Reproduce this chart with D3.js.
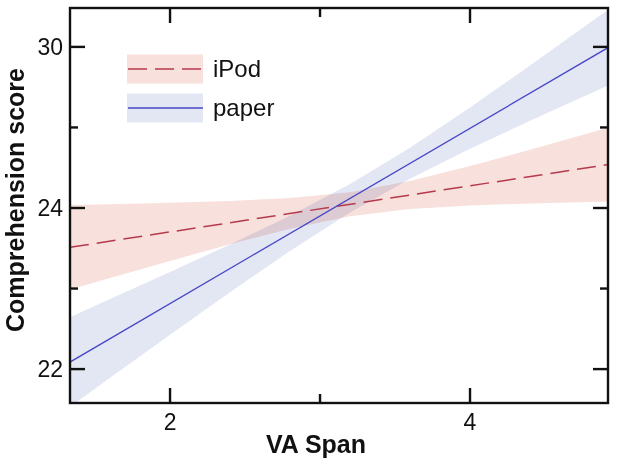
<!DOCTYPE html>
<html><head><meta charset="utf-8">
<script src="https://cdn.jsdelivr.net/npm/d3@7/dist/d3.min.js"></script>
<style>
html,body{margin:0;padding:0;background:#fff;}
svg{display:block;font-family:"Liberation Sans",Arial,sans-serif;}
</style></head>
<body>
<svg id="chart" width="617" height="460"></svg>
<script>
// ---- data ----
const seriesNames = ["iPod", "paper"];
const bandX = [1.333, 1.6, 2.0, 2.4, 2.8, 3.2, 3.6, 4.0, 4.4, 4.92];
const iPodLower = [22.987, 23.131, 23.343, 23.549, 23.742, 23.897, 23.988, 24.032, 24.057, 24.081];
const iPodUpper = [24.037, 24.047, 24.065, 24.087, 24.124, 24.197, 24.334, 24.520, 24.723, 24.997];
const paperLower = [21.530, 21.892, 22.426, 22.954, 23.467, 23.945, 24.364, 24.735, 25.082, 25.520];
const paperUpper = [22.644, 22.870, 23.206, 23.548, 23.905, 24.297, 24.748, 25.247, 25.770, 26.462];
const lineX = [1.333, 4.92];
const iPodFit = [23.512, 24.539];
const paperFit = [22.087, 25.991];
const xTickValues = [2, 3, 4];
const xTickLabels = ["2", "", "4"];
const yTickValues = [22, 23, 24, 25, 26];
const yTickLabels = ["22", "", "24", "", "30"];

// ---- layout ----
const svg = d3.select("#chart");
const L = 70, R = 608, T = 8, B = 403;
const x = d3.scaleLinear().domain([1.333, 4.92]).range([L, R]);
const y = d3.scaleLinear().domain([21.579, 26.483]).range([B, T]);

const defs = svg.append("defs");
defs.append("clipPath").attr("id", "clip").append("rect")
  .attr("x", L).attr("y", T).attr("width", R - L).attr("height", B - T);

const plot = svg.append("g").attr("clip-path", "url(#clip)");

const area = d3.area().x(d => x(d.x)).y0(d => y(d.lo)).y1(d => y(d.hi));
const line = d3.line().x(d => x(d.x)).y(d => y(d.v));

const bands = [
  {lo: iPodLower, hi: iPodUpper, fill: "#f8e0dc"},
  {lo: paperLower, hi: paperUpper, fill: "#e3e7f4"}
];
bands.forEach(b => {
  plot.append("path")
    .datum(bandX.map((v, i) => ({x: v, lo: b.lo[i], hi: b.hi[i]})))
    .attr("d", area).attr("fill", b.fill)
    .style("mix-blend-mode", "multiply");
});

plot.append("path")
  .datum(lineX.map((v, i) => ({x: v, v: iPodFit[i]})))
  .attr("d", line).attr("fill", "none")
  .attr("stroke", "#b53a4b").attr("stroke-width", 1.5)
  .attr("stroke-dasharray", "19,8");
plot.append("path")
  .datum(lineX.map((v, i) => ({x: v, v: paperFit[i]})))
  .attr("d", line).attr("fill", "none")
  .attr("stroke", "#4646c6").attr("stroke-width", 1.3);

// ---- axes (ticks inward, mirrored) ----
const ax = svg.append("g").attr("stroke", "#111").attr("stroke-width", 2.4);
yTickValues.forEach((v, i) => {
  const major = yTickLabels[i] !== "";
  const len = major ? 15 : 8;
  ax.append("line").attr("x1", L).attr("x2", L + len).attr("y1", y(v)).attr("y2", y(v));
  ax.append("line").attr("x1", R).attr("x2", R - len).attr("y1", y(v)).attr("y2", y(v));
  if (major) {
    svg.append("text").attr("x", 63).attr("y", y(v)).attr("dy", "0.36em")
      .attr("text-anchor", "end").attr("font-size", 23).attr("fill", "#111")
      .text(yTickLabels[i]);
  }
});
xTickValues.forEach((v, i) => {
  const major = xTickLabels[i] !== "";
  const len = major ? 15 : 9;
  ax.append("line").attr("x1", x(v)).attr("x2", x(v)).attr("y1", B).attr("y2", B - len);
  ax.append("line").attr("x1", x(v)).attr("x2", x(v)).attr("y1", T).attr("y2", T + len);
  if (major) {
    svg.append("text").attr("x", x(v)).attr("y", 430)
      .attr("text-anchor", "middle").attr("font-size", 23).attr("fill", "#111")
      .text(xTickLabels[i]);
  }
});
svg.append("rect").attr("x", L).attr("y", T).attr("width", R - L).attr("height", B - T)
  .attr("fill", "none").attr("stroke", "#111").attr("stroke-width", 2.4);

// ---- axis titles ----
svg.append("text").attr("x", 316).attr("y", 453).attr("text-anchor", "middle")
  .attr("font-size", 25).attr("font-weight", "bold").attr("fill", "#111").text("VA Span");
svg.append("text").attr("transform", "translate(24,200) rotate(-90)")
  .attr("text-anchor", "middle").attr("font-size", 25).attr("font-weight", "bold")
  .attr("fill", "#111").text("Comprehension score");

// ---- legend ----
const legend = [
  {name: seriesNames[0], fill: "#f8e0dc", stroke: "#b53a4b", dash: "19,8", cy: 69},
  {name: seriesNames[1], fill: "#e3e7f4", stroke: "#4646c6", dash: null, cy: 108}
];
legend.forEach(d => {
  svg.append("rect").attr("x", 127).attr("y", d.cy - 14.5).attr("width", 76).attr("height", 29)
    .attr("fill", d.fill);
  svg.append("line").attr("x1", 128).attr("x2", 203).attr("y1", d.cy).attr("y2", d.cy)
    .attr("stroke", d.stroke).attr("stroke-width", 1.4)
    .attr("stroke-dasharray", d.dash);
  svg.append("text").attr("x", 213).attr("y", d.cy).attr("dy", "0.35em")
    .attr("font-size", 24).attr("fill", "#111").text(d.name);
});
</script>
</body></html>
